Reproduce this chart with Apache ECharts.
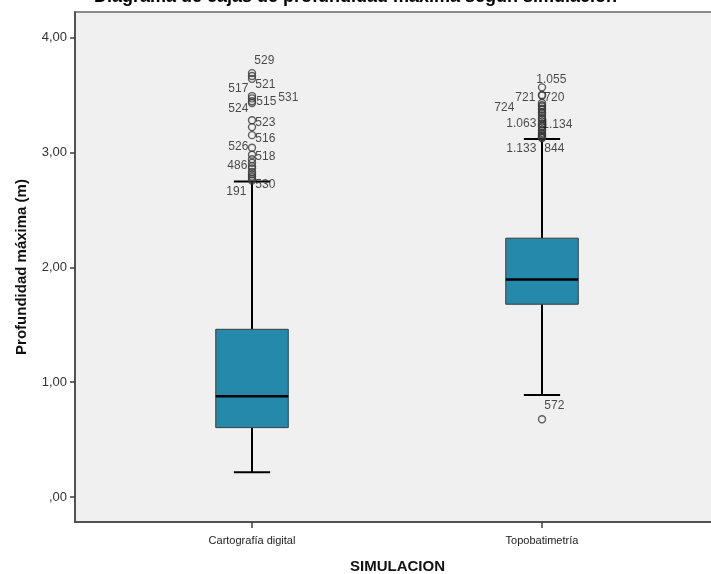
<!DOCTYPE html>
<html>
<head>
<meta charset="utf-8">
<script src="https://cdn.jsdelivr.net/npm/echarts@6/dist/echarts.min.js"></script>
<style>
  html, body { margin: 0; padding: 0; background: #ffffff; }
  #chart { width: 711px; height: 574px; }
</style>
</head>
<body>
<div id="chart"></div>
<script>
// Categorías del eje X
const categories = ['Cartografía digital', 'Topobatimetría'];

// Resumen de cada caja: [bigote inferior, Q1, mediana, Q3, bigote superior]
const cartografiaBox = [0.215, 0.604, 0.877, 1.46, 2.747];
const topobatimetriaBox = [0.889, 1.678, 1.893, 2.253, 3.116];

// Valores atípicos y su número de caso ('' = sin etiqueta)
const cartografiaOutliers = [3.69, 3.665, 3.64, 3.49, 3.47, 3.445, 3.43, 3.28, 3.22, 3.15, 3.04, 2.98, 2.94, 2.91, 2.88, 2.86, 2.83, 2.81, 2.79, 2.77, 2.755];
const cartografiaCases = ['529', '517', '521', '531', '515', '524', '', '523', '', '516', '526', '518', '486', '', '', '', '', '', '', '530', '191'];

const topoOutliers = [3.566, 3.50, 3.495, 3.43, 3.41, 3.40, 3.38, 3.37, 3.35, 3.34, 3.32, 3.30, 3.29, 3.27, 3.25, 3.245, 3.23, 3.22, 3.20, 3.19, 3.17, 3.16, 3.15, 3.14, 3.13, 3.125, 0.677];
const topoCases = ['1.055', '721', '720', '724', '', '', '', '', '', '', '', '', '', '', '1.063', '1.134', '', '', '', '', '', '', '', '', '1.133', '844', '572'];

// Marcas del eje Y
const yTicks = [0, 1, 2, 3, 4];

// Colocación de cada etiqueta de caso: [dx, dy, alineación]
const labelPlacement = {
  '529': [3, -12, 'left'], '517': [-3, 13, 'right'], '521': [4, 7, 'left'],
  '531': [27, 2, 'left'], '515': [5, 4, 'left'], '524': [-3, 8, 'right'],
  '523': [4, 3, 'left'], '516': [4, 4, 'left'], '526': [-3, 0, 'right'],
  '518': [4, 3, 'left'], '486': [-4, 7, 'right'], '530': [4, 7, 'left'],
  '191': [-5, 12, 'right'],
  '1.055': [-5, -7, 'left'], '721': [-6, 3, 'right'], '720': [3, 3, 'left'],
  '724': [-27, 5, 'right'], '1.063': [-5, 1, 'right'], '1.134': [1, 1, 'left'],
  '1.133': [-5, 12, 'right'], '844': [3, 11, 'left'], '572': [3, -13, 'left']
};

const FONT = 'Liberation Sans, Arial, Helvetica, sans-serif';
const Y_MIN = -0.2176, Y_MAX = 4.222;
const SYMBOL = 7;

function outlierPoints(catIndex, values, cases) {
  return values.map((v, i) => {
    const id = cases[i];
    const pt = { value: [catIndex, v] };
    if (id) {
      const p = labelPlacement[id];
      pt.label = {
        show: true, formatter: id,
        position: [SYMBOL / 2 + p[0], SYMBOL / 2 + p[1]],
        align: p[2], verticalAlign: 'middle'
      };
    }
    return pt;
  });
}

function renderBox(params, api) {
  const idx = api.value(0);
  const band = api.size([1, 0])[0];
  const boxW = band * 0.25;
  const capW = band * 0.125;
  const pMin = api.coord([idx, api.value(1)]);
  const pQ1 = api.coord([idx, api.value(2)]);
  const pMed = api.coord([idx, api.value(3)]);
  const pQ3 = api.coord([idx, api.value(4)]);
  const pMax = api.coord([idx, api.value(5)]);
  const x = pMed[0];
  const whisker = { stroke: '#000', lineWidth: 2 };
  return {
    type: 'group',
    children: [
      { type: 'line', shape: { x1: x, y1: pMax[1], x2: x, y2: pQ3[1] }, style: whisker },
      { type: 'line', shape: { x1: x, y1: pQ1[1], x2: x, y2: pMin[1] }, style: whisker },
      { type: 'line', shape: { x1: x - capW / 2, y1: pMax[1], x2: x + capW / 2, y2: pMax[1] }, style: whisker },
      { type: 'line', shape: { x1: x - capW / 2, y1: pMin[1], x2: x + capW / 2, y2: pMin[1] }, style: whisker },
      { type: 'rect', shape: { x: x - boxW / 2, y: pQ3[1], width: boxW, height: pQ1[1] - pQ3[1] },
        style: { fill: '#2489AA', stroke: '#3c3c3c', lineWidth: 1 } },
      { type: 'line', shape: { x1: x - boxW / 2, y1: pMed[1], x2: x + boxW / 2, y2: pMed[1] },
        style: { stroke: '#000', lineWidth: 2.5 } }
    ]
  };
}

const chart = echarts.init(document.getElementById('chart'), null, { renderer: 'canvas' });

chart.setOption({
  animation: false,
  backgroundColor: '#ffffff',
  title: {
    text: 'Diagrama de cajas de profundidad máxima según simulación',
    left: 'center', top: -17,
    textStyle: { fontFamily: FONT, fontSize: 18, fontWeight: 'bold', color: '#000' }
  },
  grid: [
    { left: 75, top: 12, right: -9, bottom: 52, show: true, outerBoundsMode: 'none',
      backgroundColor: '#F0F0F0', borderColor: '#8c8c8c', borderWidth: 2 },
    { left: 107, top: 12, width: 580, bottom: 52, outerBoundsMode: 'none' }
  ],
  xAxis: [
    { gridIndex: 0, type: 'value', min: 0, max: 1,
      axisLine: { show: true, onZero: false, lineStyle: { color: '#3f3f3f', width: 1.5 } },
      axisTick: { show: false }, axisLabel: { show: false }, splitLine: { show: false },
      name: 'SIMULACION', nameLocation: 'middle', nameGap: 37,
      nameTextStyle: { fontFamily: FONT, fontSize: 15, fontWeight: 'bold', color: '#111' } },
    { gridIndex: 1, type: 'category', data: categories, boundaryGap: true,
      axisLine: { show: false, onZero: false },
      axisTick: { show: true, alignWithLabel: true, length: 6, lineStyle: { color: '#3f3f3f', width: 1.5 } },
      axisLabel: { fontFamily: FONT, fontSize: 11, color: '#222', margin: 13 } }
  ],
  yAxis: [
    { gridIndex: 0, type: 'value', min: Y_MIN, max: Y_MAX,
      axisLine: { show: true, onZero: false, lineStyle: { color: '#3f3f3f', width: 1.5 } },
      axisTick: { show: true, length: 5, customValues: yTicks, lineStyle: { color: '#3f3f3f', width: 1.5 } },
      axisLabel: { customValues: yTicks, fontFamily: FONT, fontSize: 13, color: '#333', margin: 8,
        formatter: v => v === 0 ? ',00' : v.toFixed(2).replace('.', ',') },
      splitLine: { show: false },
      name: 'Profundidad máxima (m)', nameLocation: 'middle', nameGap: 46,
      nameTextStyle: { fontFamily: FONT, fontSize: 15, fontWeight: 'bold', color: '#111' } },
    { gridIndex: 1, type: 'value', min: Y_MIN, max: Y_MAX, show: false }
  ],
  series: [
    {
      type: 'custom', xAxisIndex: 1, yAxisIndex: 1,
      renderItem: renderBox,
      encode: { x: 0, y: [1, 2, 3, 4, 5] },
      data: [[0].concat(cartografiaBox), [1].concat(topobatimetriaBox)],
      z: 2
    },
    {
      type: 'scatter', xAxisIndex: 1, yAxisIndex: 1,
      symbol: 'circle', symbolSize: SYMBOL,
      itemStyle: { color: 'rgba(0,0,0,0)', borderColor: '#383838', borderWidth: 1.4 },
      label: { fontFamily: FONT, fontSize: 12, color: '#1e1e1e' },
      data: outlierPoints(0, cartografiaOutliers, cartografiaCases)
        .concat(outlierPoints(1, topoOutliers, topoCases)),
      z: 3
    }
  ]
});
</script>
</body>
</html>
